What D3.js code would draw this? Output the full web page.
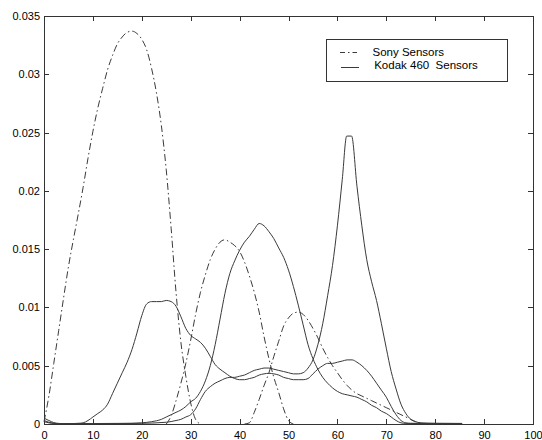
<!DOCTYPE html>
<html>
<head>
<meta charset="utf-8">
<script src="https://cdn.jsdelivr.net/npm/d3@7"></script>
<style>
  html, body { margin: 0; padding: 0; background: #fff; }
  svg { display: block; font-family: "Liberation Sans", Arial, Helvetica, sans-serif; }
</style>
</head>
<body>
<svg id="chart" width="542" height="440"></svg>
<script>
// ---------- data ----------
const xTicks = [0, 10, 20, 30, 40, 50, 60, 70, 80, 90, 100];
const xTickLabels = ["0", "10", "20", "30", "40", "50", "60", "70", "80", "90", "100"];
const yTicks = [0, 0.005, 0.01, 0.015, 0.02, 0.025, 0.03, 0.035];
const yTickLabels = ["0", "0.005", "0.01", "0.015", "0.02", "0.025", "0.03", "0.035"];
const legendLabels = ["Sony Sensors", " Kodak 460  Sensors"];

const sonyBlueX = [0,1,2,3,4,5,6,7,8,9,10,11,12,13,14,15,16,17,18,19,20,21,22,23,24,25,26,27,28,29,30,31,32];
const sonyBlueY = [0.0002,0.0024,0.0052,0.0080,0.0108,0.0135,0.0158,0.0180,0.0203,0.0228,0.0251,0.0271,0.0288,0.0304,0.0316,0.0326,0.0332,0.0336,0.0337,0.0335,0.0330,0.0321,0.0305,0.0284,0.0256,0.0218,0.0168,0.0113,0.0070,0.0041,0.0018,0.0004,0];

const sonyGreenX = [25,26,27,28,29,30,31,32,33,34,35,36,37,38,39,40,41,42,43,44,45,46,47,48,49,50,51];
const sonyGreenY = [0,0.0007,0.0020,0.0035,0.0052,0.0072,0.0094,0.0113,0.0128,0.0141,0.0150,0.0156,0.0158,0.0156,0.0153,0.0148,0.0139,0.0127,0.0113,0.0096,0.0075,0.0056,0.0040,0.0027,0.0013,0.0003,0];

const sonyRedX = [41,42,43,44,45,46,47,48,49,50,51,52,53,54,55,56,57,58,59,60,61,62,63,64,65,66,67,68,69,70,71,72,73,74,75,76,77,78];
const sonyRedY = [0,0.0001,0.0010,0.0021,0.0033,0.0044,0.0058,0.0071,0.0084,0.0091,0.0095,0.0096,0.0094,0.0089,0.0082,0.0074,0.0065,0.0057,0.0050,0.0044,0.0038,0.0033,0.0029,0.0026,0.0024,0.0022,0.0020,0.0018,0.0016,0.0014,0.0012,0.0010,0.0008,0.0006,0.0004,0.0002,0.0001,0];

const kodakBlueX = [0,1,2,3,4,5,6,7,8,9,10,11,12,13,14,15,16,17,18,19,20,21,22,23,24,25,26,27,28,29,30,31,32,33,34,35,36,37,38,39,40,41,42,43,44,45,46,47,48,49,50,51,52,53,54,55,56,57,58,59,60,61,62,63,64,65,66,67,68,69,70,71,72,73,74,75,80,85.5];
const kodakBlueY = [0.0005,0.0003,0.00012,0.00005,0.00003,0.00003,0.00004,0.00006,0.0001,0.0003,0.0006,0.0009,0.0012,0.0017,0.0026,0.0035,0.0044,0.0053,0.0064,0.0078,0.0093,0.0103,0.0105,0.0105,0.0105,0.0106,0.0105,0.0101,0.0092,0.0082,0.0076,0.0073,0.0070,0.0065,0.0058,0.0051,0.0047,0.0044,0.0041,0.0039,0.0038,0.0038,0.0039,0.0040,0.0042,0.0043,0.00435,0.0043,0.0042,0.0040,0.0039,0.0038,0.0038,0.0038,0.0039,0.0043,0.0047,0.0050,0.0052,0.0052,0.0053,0.0054,0.0055,0.0055,0.0053,0.0050,0.0046,0.0041,0.0035,0.0029,0.0023,0.0015,0.0008,0.0003,0.0001,0.00006,0.00005,0.00004];

const kodakGreenX = [0,1,2,3,10,18,20,22,24,25,26,27,28,29,30,31,32,33,34,35,36,37,38,39,40,41,42,43,44,45,46,47,48,49,50,51,52,53,54,55,56,57,58,59,60,61,62,63,64,65,66,67,68,69,70,71,72,73,74,80,85.5];
const kodakGreenY = [0.0003,0.00015,0.00006,0.00003,0.00004,0.00006,0.0001,0.0002,0.0004,0.0006,0.0008,0.0010,0.0012,0.0015,0.0019,0.0022,0.0028,0.0037,0.0050,0.0068,0.0090,0.0112,0.0129,0.0140,0.0149,0.0156,0.0161,0.0167,0.0172,0.0170,0.0165,0.0159,0.0151,0.0143,0.0132,0.0118,0.0102,0.0085,0.0068,0.0056,0.0047,0.0040,0.0035,0.0031,0.0028,0.0026,0.0025,0.0024,0.0023,0.0021,0.0019,0.0016,0.0014,0.0011,0.0009,0.0006,0.0003,0.0001,0.00005,0.00004,0.00003];

const kodakRedX = [0,1,2,5,15,20,25,27,28,29,30,31,32,33,34,35,36,37,38,39,40,41,42,43,44,45,46,47,48,49,50,51,52,53,54,55,56,57,58,59,60,61,61.9,62.9,64,65,66,67,68,69,70,71,72,73,74,75,76,77,80,85.5];
const kodakRedY = [0.0002,0.0001,0.00004,0.00003,0.00004,0.00006,0.00015,0.0003,0.0004,0.0006,0.0008,0.0013,0.0021,0.0028,0.0032,0.0035,0.0037,0.0039,0.0040,0.0040,0.0041,0.0042,0.0044,0.0046,0.0047,0.0048,0.0048,0.0047,0.0046,0.0045,0.0044,0.0043,0.0043,0.0044,0.0048,0.0055,0.0068,0.0086,0.0110,0.0136,0.0170,0.0210,0.0247,0.0247,0.0204,0.0170,0.0141,0.0122,0.0106,0.0086,0.0065,0.0045,0.0030,0.0017,0.0009,0.0004,0.0002,0.0001,0.00006,0.00005];

// ---------- layout ----------
const svg = d3.select("#chart");
const margin = { left: 44, top: 16, right: 9, bottom: 16 };
const W = 542, H = 440;
const plotW = W - margin.left - margin.right; // 489
const plotH = H - margin.top - margin.bottom; // 408

const x = d3.scaleLinear().domain([0, 100]).range([margin.left, margin.left + plotW]);
const y = d3.scaleLinear().domain([0, 0.035]).range([margin.top + plotH, margin.top]);

const axisColor = "#333";
const lineColor = "#3a3a3a";

// frame
svg.append("rect")
  .attr("x", x(0)).attr("y", y(0.035))
  .attr("width", x(100) - x(0)).attr("height", y(0) - y(0.035))
  .attr("fill", "none").attr("stroke", axisColor).attr("stroke-width", 1)
  .attr("shape-rendering", "crispEdges");

function styleAxis(g, showText) {
  g.select(".domain").remove();
  g.selectAll(".tick line").attr("stroke", axisColor).attr("shape-rendering", "crispEdges");
  g.selectAll(".tick text").attr("fill", "#000").attr("font-size", "11px");
  if (!showText) g.selectAll(".tick text").remove();
}

const bottomAxis = d3.axisBottom(x).tickValues(xTicks)
  .tickFormat((d, i) => xTickLabels[i]).tickSizeInner(-5).tickSizeOuter(0).tickPadding(7);
svg.append("g").attr("transform", `translate(0,${y(0)})`).call(bottomAxis).call(g => styleAxis(g, true));

const topAxis = d3.axisTop(x).tickValues(xTicks).tickSizeInner(-5).tickSizeOuter(0);
svg.append("g").attr("transform", `translate(0,${y(0.035)})`).call(topAxis).call(g => styleAxis(g, false));

const leftAxis = d3.axisLeft(y).tickValues(yTicks)
  .tickFormat((d, i) => yTickLabels[i]).tickSizeInner(-5).tickSizeOuter(0).tickPadding(4);
svg.append("g").attr("transform", `translate(${x(0)},0)`).call(leftAxis).call(g => styleAxis(g, true));

const rightAxis = d3.axisRight(y).tickValues(yTicks).tickSizeInner(-5).tickSizeOuter(0);
svg.append("g").attr("transform", `translate(${x(100)},0)`).call(rightAxis).call(g => styleAxis(g, false));

// ---------- curves ----------
const line = d3.line().x(d => x(d[0])).y(d => y(d[1])).curve(d3.curveMonotoneX);
const series = [
  { xs: sonyBlueX, ys: sonyBlueY, dash: "7,3,1.5,3" },
  { xs: sonyGreenX, ys: sonyGreenY, dash: "7,3,1.5,3" },
  { xs: sonyRedX, ys: sonyRedY, dash: "7,3,1.5,3" },
  { xs: kodakBlueX, ys: kodakBlueY, dash: null },
  { xs: kodakGreenX, ys: kodakGreenY, dash: null },
  { xs: kodakRedX, ys: kodakRedY, dash: null }
];
const plot = svg.append("g");
series.forEach(s => {
  const pts = s.xs.map((xv, i) => [xv, s.ys[i]]);
  plot.append("path")
    .attr("d", line(pts))
    .attr("fill", "none")
    .attr("stroke", lineColor)
    .attr("stroke-width", 1)
    .attr("stroke-dasharray", s.dash);
});

// ---------- legend ----------
const lg = svg.append("g");
lg.append("rect")
  .attr("x", 326.5).attr("y", 39.5).attr("width", 181).attr("height", 42)
  .attr("fill", "#fff").attr("stroke", axisColor).attr("stroke-width", 1);
lg.append("line").attr("x1", 340).attr("x2", 357).attr("y1", 52.5).attr("y2", 52.5)
  .attr("stroke", lineColor).attr("stroke-dasharray", "5,3,1.5,3");
lg.append("line").attr("x1", 341).attr("x2", 359).attr("y1", 67.5).attr("y2", 67.5)
  .attr("stroke", lineColor);
lg.append("text").attr("x", 372.5).attr("y", 56).attr("font-size", "11.5px")
  .attr("fill", "#000").style("white-space", "pre").text(legendLabels[0]);
lg.append("text").attr("x", 371).attr("y", 68.5).attr("font-size", "11.5px")
  .attr("fill", "#000").style("white-space", "pre").text(legendLabels[1]);
</script>
</body>
</html>
